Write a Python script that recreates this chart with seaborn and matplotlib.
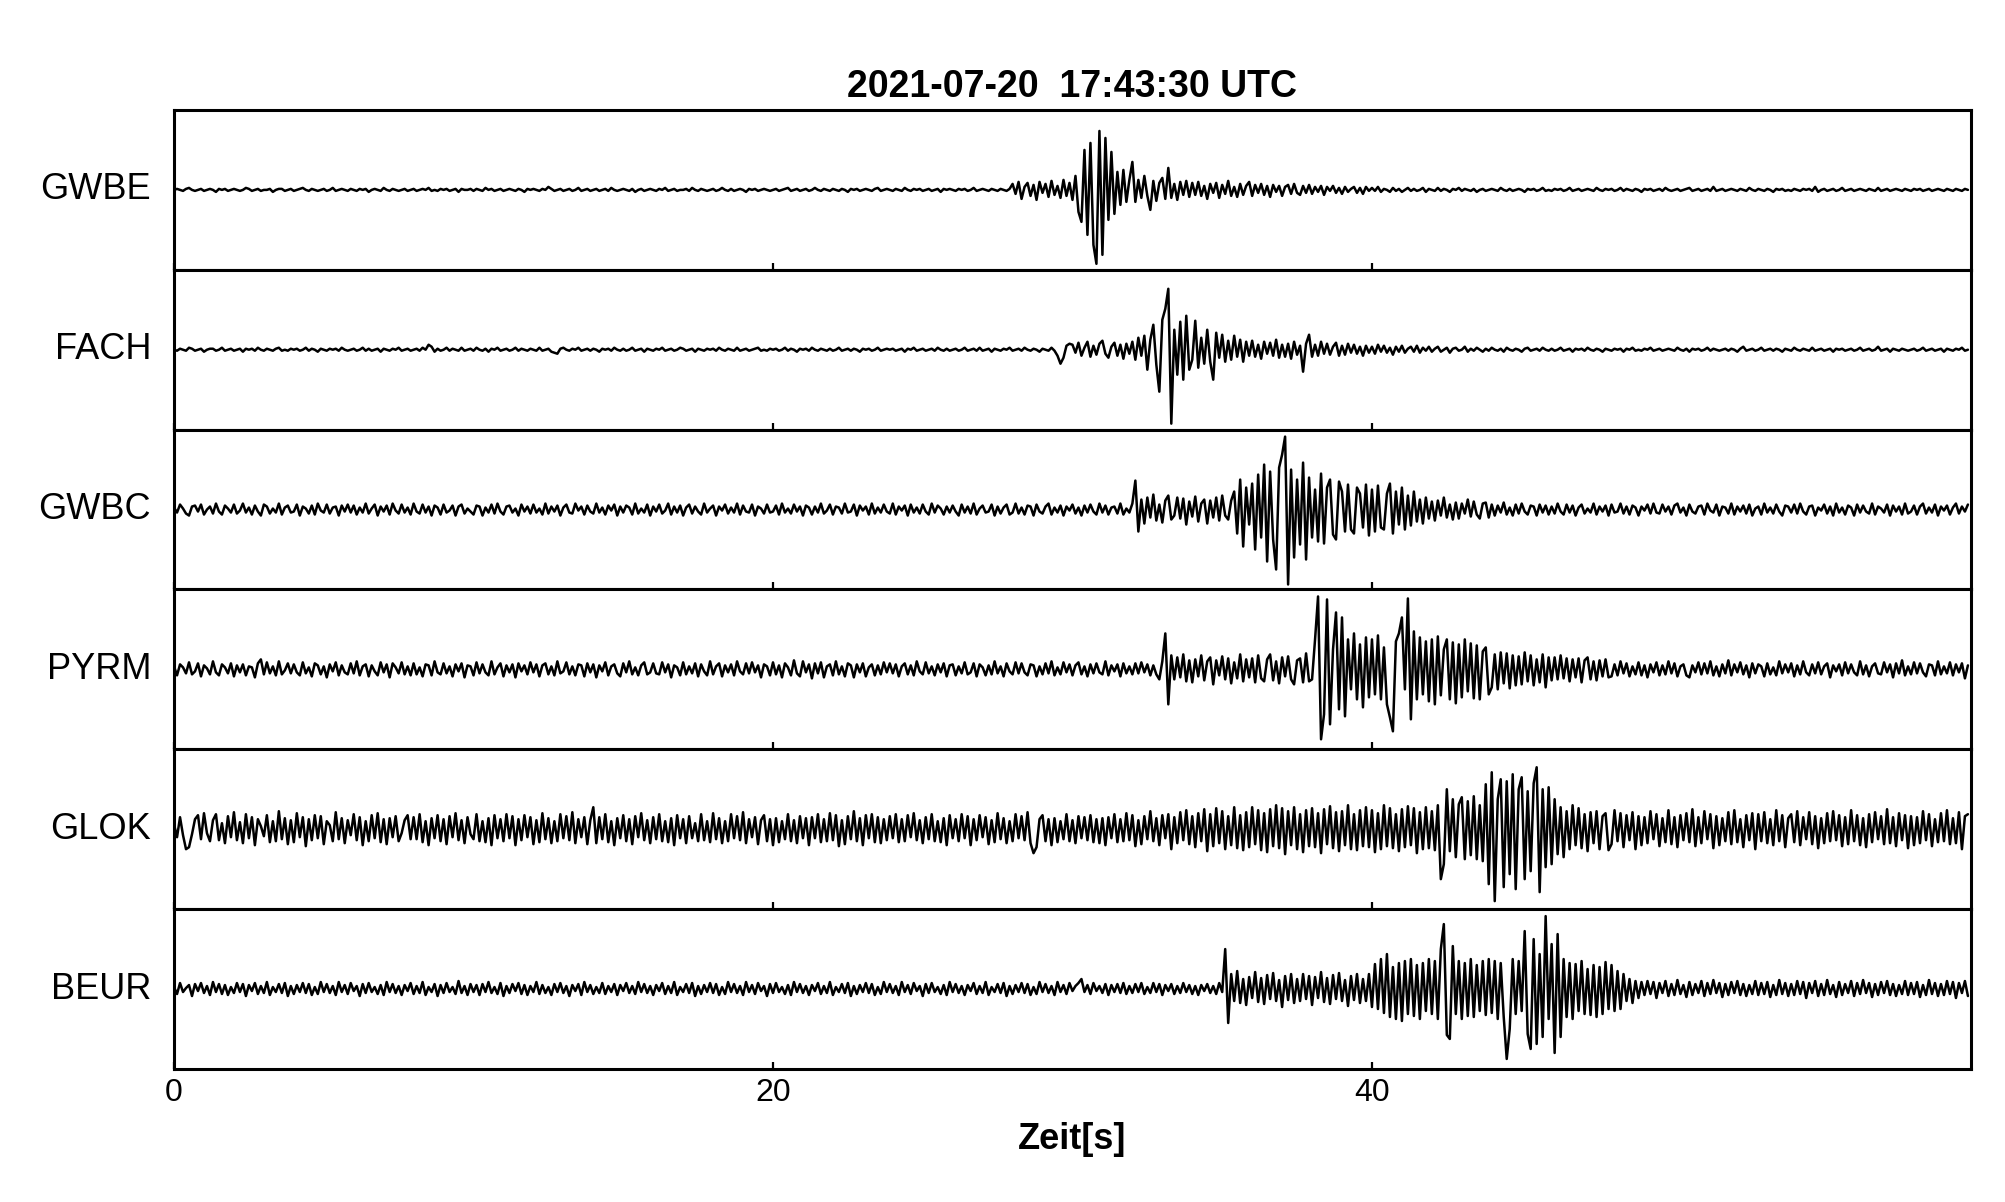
import numpy as np
import matplotlib
matplotlib.use("Agg")
import matplotlib.pyplot as plt
import seaborn as sns

# station names, top to bottom
stations = ["GWBE", "FACH", "GWBC", "PYRM", "GLOK", "BEUR"]
title = "2021-07-20  17:43:30 UTC"
xticks = [0, 20, 40]
dt = 0.1  # seconds between samples

# traces, one value every 0.1 s, one line = 2 s
# (amplitude in panel units, +-80 = panel edge)
gwbe = [
    0, 1, 0, -1, 1, 2, 0, -1, 0, 1, -1, 0, 1, 0, -2, 1, 0, 1, -1, 0,
    1, 0, -1, 0, 2, 1, -1, 0, 1, -1, 0, 0, 1, -2, 0, 1, 1, -1, 0, 1,
    -1, 0, 1, 2, 0, -1, 1, 0, -1, 0, 1, -1, 0, 2, -1, 0, 1, 0, -1, 1,
    0, -1, 1, 0, 1, -2, 0, 1, 0, -1, 2, 0, -1, 1, 0, -1, 0, 1, -1, 0,
    1, -1, 0, 1, 0, 2, -1, 0, -1, 1, 0, 1, -1, 0, 1, -2, 1, 0, 0, 1,
    -1, 1, 0, -1, 2, 0, 1, -1, 0, 1, -1, 0, 1, 0, -1, 1, 0, -2, 1, 0,
    1, 0, -1, 1, 0, 3, 1, -1, 0, 1, -1, 0, 1, -1, 0, 2, -1, 0, 1, -1,
    0, 1, -1, 0, 1, -1, 2, 0, -1, 0, 1, 0, -1, 1, -2, 0, 1, -1, 0, 1,
    0, -1, 1, 0, 2, -1, 0, 1, -1, 0, 0, 1, -1, 2, 0, -1, 1, 0, -1, 0,
    1, -1, 0, 2, 0, -1, 1, -1, 0, 1, 0, -2, 1, 0, 1, -1, 0, 1, 0, -1,
    0, 1, -1, 0, 1, 2, -1, 0, 1, -1, 0, 1, -1, 0, 2, 0, -1, 1, 0, -1,
    1, 0, -1, 1, 0, -2, 1, 0, 1, -1, 0, 1, 0, -1, 1, 2, -1, 0, 1, 0,
    -1, 1, 0, -1, 2, 0, -1, 1, 0, 1, -1, 0, 1, -1, 0, 1, -2, 1, 0, 1,
    0, -1, 1, 0, 1, -1, 0, 2, -1, 0, 1, 0, -1, 1, 0, -1, 1, 0, -1, 1,
    6, -4, 8, -9, 3, 7, -6, 5, -10, 8, -3, 6, -7, 9, -5, 4, -8, 10, -6, 7,
    -10, 14, -22, -32, 40, -45, 47, -55, -74, 59, -65, 52, -30, 38, -24, 18, -15, 20, -12, 10,
    28, -12, 10, -8, 14, -6, -20, 9, -11, 7, 12, -9, 22, -8, 6, -10, 8, -5, 9, -7,
    7, -5, 8, -6, 4, -9, 6, -3, 7, -8, 5, -4, 9, -6, 3, -7, 6, -5, 4, 8,
    -6, 5, -3, 6, -5, 4, -7, 5, -2, 4, -6, 3, 5, -4, 6, -3, -5, 4, -3, 5,
    -4, 3, -2, 4, -5, 3, -1, 4, -3, 2, -4, 3, -2, 1, 3, -3, 2, -4, 3, -1,
    2, -1, 3, -2, 1, 0, -2, 2, -1, 1, -2, 0, 2, -1, 1, -1, 0, 2, -2, 1,
    0, -1, 2, -1, 1, 0, -2, 1, 0, 2, -1, 1, 0, -1, 1, -2, 0, 1, -1, 0,
    1, 0, -1, 2, 0, -1, 1, -1, 0, 1, 0, -2, 1, 0, 1, -1, 0, 2, -1, 0,
    -1, 1, 0, 1, -1, 0, 2, -1, 0, 1, -1, 0, 1, 0, -1, 2, 0, -1, 1, 0,
    1, -1, 0, 2, -1, 1, 0, -1, 1, 0, -2, 1, 0, 1, -1, 0, 1, -1, 2, 0,
    -1, 0, 1, -1, 0, 1, 2, -1, 0, 1, -1, 0, 1, -1, 3, -1, 0, 1, -1, 0,
    1, 0, -1, 1, 0, -1, 2, 0, -1, 1, 0, -1, 1, 0, -2, 1, 0, 1, -1, 0,
    -1, 1, 0, -1, 1, 0, 1, -1, 3, -2, 0, 1, -1, 0, 1, -1, 0, 2, -1, 0,
    1, -1, 0, 1, 0, -1, 1, 0, -1, 2, -1, 0, 1, -1, 0, 1, 0, -1, 1, 0,
    -1, 1, 0, 1, -1, 0, 1, -1, 0, 1, 0, -1, 1, 0, -1, 1, 0, -1, 1, 0,
]

fach = [
    0, -1, 1, 0, -1, 2, 1, -1, 0, 1, -2, 0, 1, 1, -1, 0, 2, -1, 0, 1,
    -1, 0, 1, -2, 1, 0, 1, -1, 2, 0, -1, 1, 0, -1, 1, 2, -1, 0, -1, 1,
    0, 1, -1, 0, 2, -1, 1, 0, -2, 1, 0, -1, 1, 0, 1, -1, 2, 0, -1, 0,
    1, -1, 0, 2, -1, 1, -1, 0, 1, -2, 1, 0, -1, 1, 0, 2, -1, 0, 1, -1,
    0, 1, -1, 2, 0, 5, 3, -2, 1, -1, 0, 2, -1, 1, 0, -1, 2, -1, 0, 1,
    -1, 2, 0, -1, 1, -2, 1, 0, 2, -1, 0, 1, -1, 0, 2, -1, 1, 0, -1, 1,
    0, -1, 2, -1, 0, 1, -2, -3, -4, 1, 2, 0, -1, 1, 0, 2, -1, 0, 1, -1,
    1, 0, -2, 1, 0, 1, -1, 2, 0, -1, 1, -1, 0, 2, -1, 0, 1, -2, 1, 0,
    -1, 1, 0, 2, -1, 0, 1, -1, 0, 2, 1, -1, 0, 1, -2, 1, 0, -1, 1, 0,
    1, -1, 2, 0, -1, 1, 0, -1, 2, -1, 0, 1, -1, 0, 1, 2, -1, 0, -1, 1,
    0, 1, -1, 0, 2, -1, 1, 0, -2, 1, 0, 1, -1, 2, 0, -1, 1, 0, -1, 1,
    -1, 0, 2, -1, 0, 1, -1, 1, 0, -2, 1, 0, 1, -1, 0, 2, -1, 0, 1, 0,
    1, -1, 0, 1, -2, 1, 0, 2, -1, 0, 1, -1, 0, 1, -1, 2, 0, -1, 1, -1,
    0, 1, -1, 0, 2, -1, 0, 1, -1, 2, -1, 0, 1, -2, 1, 0, -1, 1, 0, 2,
    -1, 0, 1, -1, 2, 0, -1, 1, 0, -2, 1, 0, -1, 2, -1, -6, -14, -8, 4, 6,
    5, -3, 7, -6, 2, 8, -7, 4, -5, 6, 9, -4, -8, 3, 7, -6, 5, -9, 6, -4,
    8, -10, 12, -6, 14, -20, 10, 25, -15, -42, 30, 41, 61, -74, 20, -25, 28, -30, 34, -20,
    -10, 29, -18, 12, -14, 20, -12, -30, 17, -8, 15, -12, 9, -10, 14, -7, 10, -12, 8, -6,
    9, -7, 5, -9, 8, -4, 7, -6, 10, -8, 5, -7, 6, -9, 8, -5, 4, -22, 6, 15,
    -7, 5, -6, 8, -4, 6, -5, 3, 7, -6, 4, -5, 6, -3, 5, -4, 3, -6, 4, -3,
    3, -4, 5, -2, 4, -3, 2, -5, 3, -2, 4, -3, 1, 3, -2, 4, -3, 2, -1, 3,
    -2, 1, 3, -2, 0, 2, -3, 1, 2, -1, 0, 3, -2, 1, -1, 2, 0, -2, 1, -1,
    2, 0, -1, 1, -2, 2, 0, -1, 1, 0, -2, 1, 2, -1, 0, 1, -1, 2, 0, -1,
    1, -1, 0, 2, -1, 0, 1, -2, 1, 0, 1, -1, 2, 0, -1, 1, 0, -2, 1, 0,
    -1, 1, 0, 1, -2, 1, 0, 2, -1, 0, -1, 1, 0, 2, -1, 0, 1, -1, 0, 1,
    0, -1, 2, 0, -1, 1, -2, 1, 0, 1, -1, 0, 2, -1, 1, 0, -1, 0, 1, -1,
    1, 0, -2, 1, 3, -1, 0, 1, -1, 0, 2, -1, 0, 1, -1, 1, 0, -2, 1, 0,
    -1, 2, 0, -1, 1, 0, -1, 2, -1, 0, 1, -1, 0, 1, -2, 1, 0, 1, -1, 0,
    1, -1, 0, 2, -1, 0, 1, -1, 0, 3, -1, 0, 1, -2, 1, 0, -1, 1, 0, -1,
    0, 1, -1, 0, 2, -1, 0, 1, -1, 0, 1, -2, 1, 0, -1, 1, 0, 2, -1, 0,
]

gwbc = [
    2, -3, 5, 1, -4, -6, 3, 4, -2, 5, -5, 0, 3, -4, 6, -2, -5, 4, 1, -3,
    5, -4, -1, 6, -3, 2, -5, 4, -2, -6, 5, 3, -4, 1, -3, 6, -5, 2, 4, -3,
    -2, 5, -6, 3, 1, -4, 4, -5, 6, -1, -3, 5, -4, 2, 3, -6, 4, -2, 5, -3,
    4, -5, 2, -3, 6, -4, 1, 5, -6, 3, -2, 4, -5, 6, -1, -4, 5, -3, 2, -5,
    6, -2, -4, 5, -3, 3, -6, 4, 2, -5, 5, -3, -1, 4, -6, 3, 5, -4, 1, -2,
    -5, 4, 3, -6, 2, -3, 5, -4, 6, -2, -5, 3, 4, -3, 1, -6, 5, -2, 3, -4,
    5, -3, 1, -5, 6, -4, 3, -2, 4, -6, 2, 5, -3, -4, 6, -1, 3, -5, 4, -2,
    -4, 6, -3, 2, -5, 4, -1, 5, -6, 3, -3, 4, 2, -5, 6, -4, 1, -3, 5, -6,
    3, -2, 5, -4, -1, 6, -5, 3, -3, 4, -6, 2, 5, -4, 3, -2, -5, 6, -3, 1,
    4, -6, 3, -1, 5, -4, 2, -3, 6, -5, 4, -2, -3, 5, -6, 3, 1, -4, 5, -3,
    -2, 4, -5, 6, -3, 1, -4, 5, -2, 3, -6, 4, 2, -5, 3, -3, 6, -4, -1, 5,
    -5, 3, 2, -4, 6, -3, -2, 5, -6, 4, -1, 3, -5, 6, -4, 2, -3, 5, -2, -4,
    6, -5, 3, -1, 4, -6, 5, -3, 2, -4, 5, -2, -5, 6, -3, 4, 1, -5, 3, -3,
    4, -2, -6, 5, -3, 3, -4, 6, -5, 1, 4, -3, -2, 5, -6, 3, -4, 2, 5, -5,
    -3, 6, -4, 2, -5, 4, 3, -6, 5, -2, -4, 3, 6, -5, 2, -3, 4, -6, 3, -1,
    5, -4, 2, -6, 4, -3, 5, -2, -5, 6, -3, 4, -5, 2, 3, -4, 6, -5, 1, -3,
    6, 29, -22, 10, -14, 12, -8, 15, -11, 5, -13, 9, 14, -10, -6, 12, -9, 11, -15, 8,
    -7, 13, -12, 6, 10, -14, 9, -8, 12, -11, 14, -6, -10, 9, 18, -24, 30, -37, 22, -15,
    26, -40, 35, -28, 45, -52, 38, -30, -60, 42, 55, 73, -75, 40, -48, 30, -35, 47, -50, 32,
    -28, 20, -32, 36, -34, 22, 30, -25, -30, 28, 18, -22, 25, -20, -24, 22, 16, -18, 25, -26,
    20, -22, 24, -18, -20, 16, 26, -24, 18, -15, 22, -20, 14, -16, 18, -12, 10, -14, 12, -9,
    8, -11, 9, -6, 12, -8, 5, -10, 7, -9, 6, -4, 10, -7, 8, -5, -9, 6, 7, -8,
    5, -6, 4, -3, 7, -5, 2, -6, 5, -4, 6, -2, -5, 4, 3, -6, 5, -3, 4, -5,
    3, -4, 6, -2, -5, 5, -3, 4, -6, 2, 5, -4, 1, -3, 6, -5, 3, -2, 4, -6,
    5, -3, -2, 6, -4, 3, -5, 4, 2, -6, 3, -1, 5, -4, 6, -3, -4, 5, -2, 3,
    -5, 4, 6, -3, 2, -6, 5, -2, -4, 3, 4, -5, 6, -1, -3, 5, -6, 3, 2, -4,
    6, -5, 3, -2, 4, -4, 5, -6, 1, 3, -5, 6, -3, 2, -4, 5, -2, -6, 4, 3,
    -3, 5, -4, 6, -2, -5, 3, 4, -6, 2, -1, 5, -4, 3, -6, 6, -3, 2, -5, 4,
    2, -6, 5, -3, 4, -2, -4, 6, -5, 3, 1, -3, 5, -6, 4, -2, 3, -5, 6, -4,
    -2, 4, -5, 3, 6, -4, 2, -3, 5, -6, 3, -1, 4, -5, 2, 6, -4, 3, -2, 5,
]

pyrm = [
    3, -6, 5, 2, -4, 7, -5, -2, 6, -7, 4, 1, -5, 8, -3, -6, 5, 2, -4, 6,
    -7, 4, -3, 5, -6, 3, 2, -8, 6, 10, -5, 7, -4, 3, -6, 8, -5, -1, 6, -4,
    5, -3, -6, 7, -4, 2, -7, 6, 4, -5, 3, -8, 5, -2, 7, -6, 4, -3, -5, 6,
    -4, 8, -6, 3, 5, -7, 4, -2, -6, 7, -3, 5, -8, 6, 2, -4, 7, -5, 3, -6,
    6, -5, 2, -7, 5, 4, -6, 8, -3, -5, 6, -4, 3, -7, 5, -2, 6, -8, 4, 3,
    -6, 7, -4, 5, -3, -6, 8, -5, 2, 6, -7, 4, -3, 5, -8, 6, -2, 4, -5, 7,
    -3, 5, -7, 4, 6, -5, 3, -6, 8, -4, -2, 7, -5, 3, -6, 5, 4, -7, 6, -3,
    5, -8, 4, -2, 7, -6, 3, 5, -4, -7, 6, -3, 8, -5, 2, -6, 4, 7, -5, -3,
    6, -4, -5, 7, -3, 5, -8, 4, 2, -6, 7, -5, 3, -4, 6, -7, 5, -2, -6, 8,
    -5, 3, 6, -7, 4, -3, 5, -6, 8, -2, -5, 6, -4, 7, -3, 4, -8, 5, 3, -6,
    7, -5, 4, -8, 6, 2, -6, 9, -4, -7, 8, -3, 5, -9, 6, -4, 7, -8, 3, 5,
    -6, 8, -5, 3, -7, 6, 4, -8, 5, -3, 6, -7, 2, 5, -6, 4, -5, 7, -3, 6,
    -4, 5, -7, 3, 6, -5, 4, -6, 8, -2, -5, 7, -4, 3, -6, 5, -3, 6, -7, 4,
    5, -6, 3, -4, 7, -5, -3, 6, -7, 5, 2, -6, 4, -5, 8, -4, 3, -7, 6, -2,
    -5, 7, -4, 6, -3, -6, 5, 4, -7, 3, -5, 6, -4, 8, -6, 2, -5, 7, -3, 5,
    -6, 4, 7, -5, 3, -7, 5, -4, 6, -3, -5, 8, -6, 4, -2, 5, -7, 6, -4, 3,
    -5, 6, -4, 7, -3, 5, -6, 4, -5, -10, 8, 36, -35, 14, -10, 12, -8, 15, -12, 9,
    -13, 10, -7, 14, -11, 8, 12, -15, 9, -6, 13, -10, 11, -14, 7, -9, 15, -12, 10, -8,
    11, -13, 14, -9, -12, 10, 15, -11, 8, -14, 12, -7, 13, -10, -15, 9, 11, -13, 16, -12,
    -10, 30, 73, -70, -45, 70, -55, 20, 57, -40, 52, -47, 30, -20, 36, -30, 25, -38, 32, -28,
    30, -25, 34, -30, 22, -35, -48, -62, 28, 36, 52, -20, 71, -50, 38, -30, 32, -25, 28, -32,
    30, -35, 33, -26, 20, 30, -30, 27, -34, 25, -28, 30, -22, 26, -29, 24, -30, 18, 22, -25,
    -18, 15, -20, 17, -14, 16, -19, 14, -16, 13, -15, 17, -12, 14, -16, 10, -13, 15, -18, 12,
    -11, 12, -10, 14, -9, 11, -12, 10, -8, 11, -13, 9, 12, -10, 8, -11, 9, -7, 10, -8,
    -7, 5, -6, 8, -4, 6, -7, 3, -5, 7, -6, 4, -8, 5, -3, 7, -6, 4, -5, 8,
    -4, 6, -7, 3, 5, -6, -8, 4, -3, 7, -5, 6, -4, 8, -6, 3, -7, 5, -4, 9,
    -6, 5, -3, 7, -5, 4, -8, 6, -4, 5, 3, -7, 6, -5, 2, -6, 8, -4, 5, -3,
    6, -7, 4, -5, 8, -3, -6, 5, -4, 7, -5, 3, 6, -8, 4, -2, 5, -6, 7, -4,
    5, -3, -6, 8, -5, 4, -7, 3, 6, -4, -5, 7, -3, 5, -8, 6, -4, 9, -6, 3,
    -5, 7, -4, 6, -3, -7, 5, 4, -6, 8, -5, 3, -4, 7, -6, 5, -3, 6, -9, 4,
]

glok = [
    5, -8, 12, -6, -20, -18, -5, 10, 14, -10, 16, -4, -12, 9, 15, -11, 6, -14, 13, -8,
    17, -11, 7, -14, 15, -9, 12, -16, 10, 3, -7, 14, -13, 8, -12, 18, -10, 11, -15, 9,
    -13, 16, -8, 12, -17, 10, -11, 14, -9, 13, -15, 8, 4, -12, 17, -10, 11, -14, 9, -6,
    15, -11, 12, -16, 8, -12, 14, -9, 16, -13, 10, -15, 11, -8, 13, -12, -4, 9, 14, -10,
    12, -10, 15, -13, 8, -16, 11, -9, 14, -12, 10, -15, 13, -8, 16, -11, 9, -14, 12, -5,
    -10, 15, -12, 8, -13, 11, -16, 14, -9, 10, -12, 15, -9, 13, -16, 10, -11, 14, -8, 12,
    -15, 9, -13, 16, -10, 11, -14, 8, -12, 15, -9, 13, -11, 17, -14, 10, -8, 12, -15, 9,
    22, -14, 12, -10, 15, -13, 8, -16, 11, -9, 14, -12, 10, -15, 13, -8, 16, -11, 9, -14,
    12, -10, 15, -12, 8, -13, 11, -16, 14, -9, 10, -14, 13, -9, 6, -12, 15, -11, 8, -13,
    16, -10, 11, -14, 8, -12, 15, -9, 13, -11, 17, -14, 10, -8, 12, -15, 9, 14, -12, 10,
    -16, 11, -13, 8, -10, 15, -12, 9, -14, 13, -9, 11, -16, 12, -9, 15, -13, 10, -12, 16,
    -11, 14, -17, 9, -15, 13, -10, 18, -12, 11, -16, 14, -9, 15, -13, 12, -14, 10, -11, 13,
    -9, 15, -13, 10, -12, 14, -8, 16, -11, 9, -14, 12, -10, 15, -12, 8, -13, 11, -16, 14,
    -9, 10, -12, 15, -9, 13, -16, 10, -11, 14, -8, 12, -15, 9, -13, 16, -10, 11, -14, 8,
    -12, 15, -9, 13, -11, 17, -14, -24, -18, 10, 14, -12, 10, -16, 11, -13, 8, -10, 15, -12,
    9, -14, 13, -9, 12, -11, 14, -13, 10, -14, 11, -16, 12, -9, 15, -13, 10, -12, 16, -11,
    14, -17, 9, -15, 13, -10, 18, -12, 11, -16, 14, -9, 15, -20, 12, -14, 17, -11, 19, -15,
    13, -18, 16, -12, 20, -22, 15, -17, 21, -14, 18, -20, 13, -16, 22, -19, 14, -21, 17, -18,
    22, -15, 19, -21, 16, -23, 20, -17, 24, -19, 21, -25, 18, -16, 22, -20, 15, -23, 19, -17,
    21, -18, 16, -24, 20, -15, 23, -19, 17, -22, 18, -16, 24, -20, 15, -21, 19, -17, 22, -18,
    19, -23, 16, -20, 24, -17, 21, -19, 15, -22, 20, -18, 23, -16, 21, -24, 17, -20, 22, -19,
    18, -21, 24, -50, -35, 40, -22, 30, -28, 25, 32, -30, 28, -26, 33, -30, 24, -32, 45, -55,
    57, -72, 30, 50, -58, 48, -45, 55, -60, 40, 52, -50, 38, -42, 46, 62, -63, 40, -38, 42,
    -35, 30, -25, 22, -28, 18, -20, 24, -16, 21, -19, 15, -22, 17, -14, 18, -20, 13, 16, -21,
    -15, 19, -12, 16, -18, 14, -11, 17, -20, 13, -16, 12, -14, 18, -10, 15, -17, 11, -13, 19,
    -15, 12, -18, 14, -11, 16, -13, 20, -17, 12, -14, 18, -10, 15, -19, 13, -16, 11, -12, 17,
    -15, 19, -13, 10, -18, 14, -11, 16, -20, 15, -12, 17, -14, 10, -16, 19, -12, 14, -18, 11,
    15, -13, 18, -16, 12, -10, 17, -15, 13, -19, 11, -14, 16, -12, 18, -11, 14, -17, 12, -15,
    19, -12, 14, -16, 11, -18, 15, -13, 17, -10, 13, -15, 20, -14, 12, -17, 16, -11, 14, -19,
    13, -16, 12, -14, 18, -11, 15, -17, 10, -13, 16, -12, 19, -15, 11, -14, 17, -20, 13, 15,
]

beur = [
    2, -5, 6, -3, 1, 4, -7, 5, -2, 6, -4, 3, -6, 7, -3, 5, -5, 4, -6, 2,
    -4, 6, -3, 5, -7, 4, -2, 6, -5, 3, -4, 7, -6, 2, -3, 5, -4, 6, -7, 3,
    -5, 4, -3, 6, -4, 5, -6, 2, -5, 7, -3, 5, -4, 3, -6, 7, -3, 4, -5, 6,
    -2, 3, -7, 5, -4, 6, -3, 2, -5, 4, -6, 7, -3, 5, -4, 3, -6, 4, -2, 6,
    -5, 3, -4, 7, -6, 2, -3, 5, -7, 4, -4, 6, -3, 2, -5, 8, -4, 3, -6, 5,
    -3, 4, -6, 5, -3, 7, -4, 2, -5, 6, -7, 3, -4, 5, -2, 6, -5, 4, -6, 3,
    -3, 7, -5, 4, -4, 2, -6, 5, -3, 6, -4, 3, -7, 4, -2, 5, -6, 7, -3, 4,
    -5, 2, -4, 6, -5, 3, -3, 5, -6, 4, -2, 6, -4, 3, -5, 7, -3, 5, -4, 3,
    -6, 4, -2, 6, -5, 3, -4, 7, -6, 2, -3, 5, -4, 6, -7, 3, -5, 4, -3, 6,
    -4, 5, -6, 2, -5, 7, -3, 5, -4, 3, -6, 7, -3, 4, -5, 6, -2, 3, -7, 5,
    -4, 6, -3, 2, -5, 4, -6, 7, -3, 5, -4, 3, -6, 4, -2, 6, -5, 3, -4, 7,
    -6, 2, -3, 5, -4, 6, -7, 3, -5, 4, -3, 6, -4, 5, -6, 2, -5, 7, -3, 5,
    -4, 3, -6, 7, -3, 4, -5, 6, -2, 3, -7, 5, -4, 6, -3, 2, -5, 4, -6, 7,
    -3, 5, -4, 3, -6, 4, -2, 6, -5, 3, -4, 7, -6, 2, -3, 5, -4, 6, -7, 3,
    -5, 4, -3, 6, -4, 5, -6, 2, -5, 7, -3, 5, -4, 3, -6, 7, -3, 4, -5, 6,
    -2, 3, 6, 10, -3, 4, -5, 6, -2, 3, -4, 5, -6, 4, -3, 5, -4, 6, -5, 3,
    -4, 5, -3, 6, -5, 2, -4, 6, -3, 5, -6, 4, -2, 5, -5, 3, -4, 6, -3, 4,
    -5, 3, -6, 4, -2, 5, -4, 3, -5, 6, -3, 40, -34, 15, -12, 18, -14, 10, -16, 12,
    -9, 17, -13, 11, -15, 14, -10, 16, -12, 9, -18, 13, -11, 15, -14, 10, -12, 15, -10, 13,
    -16, 12, -9, 17, -13, 11, -15, 14, -10, 16, -12, 9, -17, 13, -11, 15, -14, 10, -12, 15,
    -18, 25, -20, 30, -24, 35, -28, 22, -30, 26, -32, 28, -25, 30, -27, 24, -30, 26, -22, 30,
    -25, 28, -30, 40, 65, -46, -50, 43, -25, 28, -30, 26, -27, 30, -28, 24, -22, 28, -26, 30,
    -24, 28, -30, 26, -28, -70, -40, 30, -25, 28, -22, 58, -45, -60, 50, -55, 35, -48, 73, -30,
    45, -64, 55, -48, 30, -28, 26, -30, 25, -22, 28, -25, 20, -26, 24, -28, 22, -25, 27, -20,
    24, -22, 18, -20, 15, -12, 10, -14, 8, -9, 7, -6, 8, -5, 7, -9, 6, -4, 8, -7,
    5, -6, 9, -5, 4, -8, 7, -6, 5, -4, 8, -7, 6, -5, 9, -4, 6, -8, 5, -6,
    7, -4, 8, -6, 5, -7, 4, -5, 8, -6, 6, -5, 7, -8, 4, -6, 9, -5, 6, -7,
    5, -6, 8, -5, 7, -9, 6, -4, 8, -7, 5, -6, 9, -5, 4, -8, 7, -6, 5, -4,
    8, -7, 6, -5, 9, -4, 6, -8, 5, -6, 7, -4, 8, -6, 5, -7, 4, -5, 8, -6,
    6, -5, 7, -8, 4, -6, 9, -5, 6, -7, 5, -6, 8, -5, 7, -9, 6, -4, 8, -7,
]

traces = [gwbe, fach, gwbc, pyrm, glok, beur]

sns.set_style("ticks")
plt.rcParams["font.family"] = ["Liberation Sans", "DejaVu Sans"]
plt.rcParams.update({"text.color": "black", "axes.labelcolor": "black",
                     "xtick.color": "black", "axes.edgecolor": "black"})

fig, axes = plt.subplots(6, 1, sharex=True, figsize=(20.05, 12.02), dpi=100)
fig.subplots_adjust(left=0.0868, right=0.983, top=0.9085, bottom=0.1107, hspace=0)

for ax, name, tr in zip(axes, stations, traces):
    t = np.arange(len(tr)) * dt
    sns.lineplot(x=t, y=tr, ax=ax, color="black", linewidth=1.8)
    ax.set_xlim(0, 60)
    ax.set_ylim(-80, 80)
    ax.set_yticks([])
    ax.set_ylabel("")
    ax.text(-0.0128, 0.5, name, transform=ax.transAxes, ha="right", va="center", fontsize=26)
    for s in ax.spines.values():
        s.set_visible(True)
        s.set_linewidth(2.2)
    ax.tick_params(axis="x", direction="in", length=5, width=1.6, labelsize=23, pad=6.5)

axes[-1].set_xticks(xticks)
axes[-1].set_xlabel("Zeit[s]", fontsize=26, fontweight="bold", labelpad=10)
axes[0].set_title(title, fontsize=27, fontweight="bold", pad=9.5)

fig.savefig("out.png", dpi=100)
